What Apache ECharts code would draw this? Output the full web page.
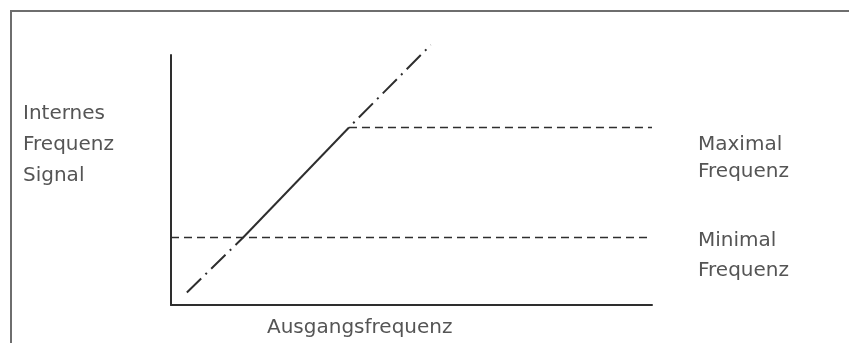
<!DOCTYPE html>
<html>
<head>
<meta charset="utf-8">
<script src="https://cdn.jsdelivr.net/npm/echarts@6/dist/echarts.min.js"></script>
<style>html,body{margin:0;padding:0;background:#fff}#chart{width:849px;height:343px}</style>
</head>
<body>
<div id="chart"></div>
<script>
// Data (arbitrary units, axes 0..100)
const signalX = [3.3, 15, 37, 54];      // Ausgangsfrequenz
const signalY = [5, 27, 71, 104];       // Internes Frequenz Signal
const minFreq = 27;                     // Minimal Frequenz
const maxFreq = 71;                     // Maximal Frequenz
const levelEndX = [99, 100];            // end of min / max guide lines
const yLabel = ['Internes', 'Frequenz', 'Signal'];
const maxLabel = ['Maximal', 'Frequenz'];
const minLabel = ['Minimal', 'Frequenz'];
const xLabel = 'Ausgangsfrequenz';

const ink = '#2e2e2e';
const txt = '#555';
const font = 'DejaVu Sans';

function seg(i) { return [[signalX[i], signalY[i]], [signalX[i + 1], signalY[i + 1]]]; }
const dashDot = [20, 6, 2, 6];
const dashed = [8, 5];

const lineBase = { type: 'line', symbol: 'none', clip: false, silent: true, animation: false };

const option = {
  animation: false,
  grid: { left: 171, right: 197, top: 55, bottom: 38 },
  xAxis: {
    type: 'value', min: 0, max: 100,
    axisLine: { show: true, lineStyle: { color: ink, width: 2 } },
    axisTick: { show: false }, axisLabel: { show: false }, splitLine: { show: false }
  },
  yAxis: {
    type: 'value', min: 0, max: 100,
    axisLine: { show: true, lineStyle: { color: ink, width: 2 } },
    axisTick: { show: false }, axisLabel: { show: false }, splitLine: { show: false }
  },
  series: [
    Object.assign({}, lineBase, { data: seg(0), lineStyle: { color: ink, width: 2, type: dashDot } }),
    Object.assign({}, lineBase, { data: seg(1), lineStyle: { color: ink, width: 2, type: 'solid' } }),
    Object.assign({}, lineBase, { data: seg(2), lineStyle: { color: ink, width: 2, type: dashDot, dashOffset: 20 } }),
    Object.assign({}, lineBase, { data: [[0, minFreq], [levelEndX[0], minFreq]], lineStyle: { color: ink, width: 1.6, type: dashed } }),
    Object.assign({}, lineBase, { data: [[signalX[2], maxFreq], [levelEndX[1], maxFreq]], lineStyle: { color: ink, width: 1.6, type: dashed } })
  ],
  graphic: [
    { type: 'rect', shape: { x: 11, y: 11, width: 900, height: 400 }, style: { fill: 'none', stroke: '#6e6e6e', lineWidth: 2 }, silent: true },
    { type: 'text', x: 23, y: 98, style: { text: yLabel.join('\n'), font: '20px ' + font, fill: txt, lineHeight: 31, verticalAlign: 'top' } },
    { type: 'text', x: 698, y: 131, style: { text: maxLabel.join('\n'), font: '20px ' + font, fill: txt, lineHeight: 27, verticalAlign: 'top' } },
    { type: 'text', x: 698, y: 226, style: { text: minLabel.join('\n'), font: '20px ' + font, fill: txt, lineHeight: 30, verticalAlign: 'top' } },
    { type: 'text', x: 267, y: 328, style: { text: xLabel, font: '20px ' + font, fill: txt, verticalAlign: 'middle' } }
  ]
};

const chart = echarts.init(document.getElementById('chart'), null, { renderer: 'canvas' });
chart.setOption(option);
</script>
</body>
</html>
